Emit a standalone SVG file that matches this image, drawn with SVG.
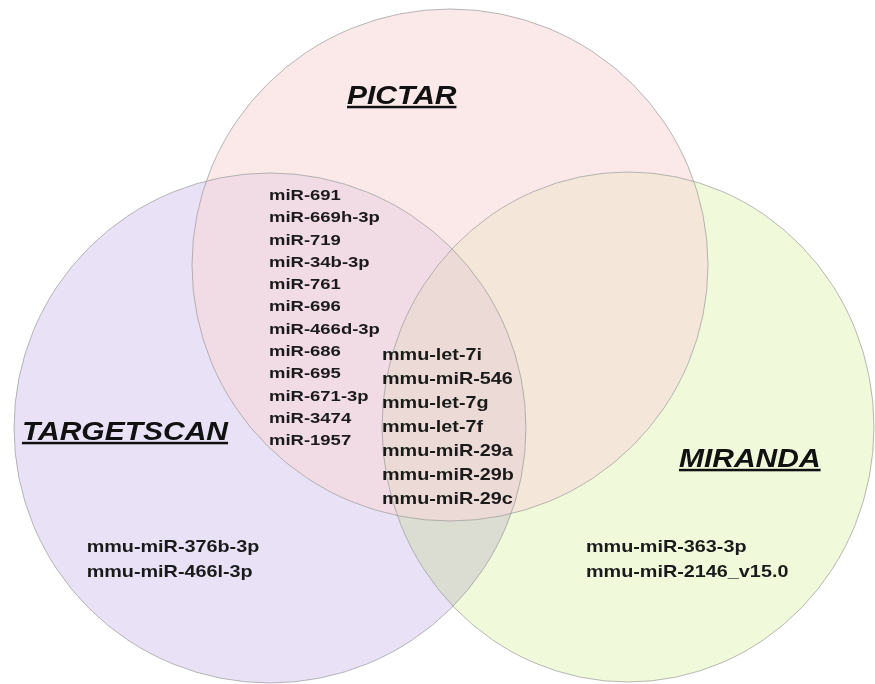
<svg xmlns="http://www.w3.org/2000/svg" width="875" height="684" viewBox="0 0 875 684">
  <style>
    .set-title { font-family: "Liberation Sans", Arial, sans-serif; font-size: 25px; font-weight: bold; font-style: italic; fill: #111; text-decoration: underline; }
    .mir { font-family: "Liberation Sans", Arial, sans-serif; font-weight: bold; fill: #1a1a1a; }
    .mir-s { font-size: 15.4px; }
    .mir-m { font-size: 16.5px; }
    .outline { fill: none; stroke: #9a9a9a; stroke-width: 1; stroke-opacity: 0.7; }
  </style>
  <rect width="875" height="684" fill="#ffffff"/>

  <!-- set areas -->
  <g id="set-fills">
    <ellipse id="fill-targetscan" cx="270" cy="428" rx="256" ry="255" fill="#e9e2f6"/>
    <ellipse id="fill-miranda" cx="628" cy="427" rx="246" ry="255" fill="#f0fadb" style="mix-blend-mode:multiply"/>
    <ellipse id="fill-pictar" cx="450" cy="265" rx="258" ry="256" fill="#f8d7d7" fill-opacity="0.55"/>
  </g>

  <!-- set outlines -->
  <g id="set-outlines">
    <ellipse class="outline" cx="270" cy="428" rx="256" ry="255"/>
    <ellipse class="outline" cx="628" cy="427" rx="246" ry="255"/>
    <ellipse class="outline" cx="450" cy="265" rx="258" ry="256"/>
  </g>

  <!-- set names -->
  <g id="title-pictar" transform="scale(1.2 1)">
    <text class="set-title" x="289.2" y="104">PICTAR</text>
  </g>
  <g id="title-targetscan" transform="scale(1.2 1)">
    <text class="set-title" x="18.3" y="440">TARGETSCAN</text>
  </g>
  <g id="title-miranda" transform="scale(1.2 1)">
    <text class="set-title" x="565.8" y="467">MIRANDA</text>
  </g>

  <!-- PICTAR and TARGETSCAN only -->
  <g id="pictar-targetscan" class="mir mir-s" transform="scale(1.2 1)">
    <text x="224.2" y="200">miR-691</text>
    <text x="224.2" y="222.3">miR-669h-3p</text>
    <text x="224.2" y="244.6">miR-719</text>
    <text x="224.2" y="266.9">miR-34b-3p</text>
    <text x="224.2" y="289.2">miR-761</text>
    <text x="224.2" y="311.5">miR-696</text>
    <text x="224.2" y="333.8">miR-466d-3p</text>
    <text x="224.2" y="356.1">miR-686</text>
    <text x="224.2" y="378.4">miR-695</text>
    <text x="224.2" y="400.7">miR-671-3p</text>
    <text x="224.2" y="423">miR-3474</text>
    <text x="224.2" y="445.3">miR-1957</text>
  </g>

  <!-- all three sets -->
  <g id="all-three" class="mir mir-m" transform="scale(1.2 1)">
    <text x="318.3" y="360">mmu-let-7i</text>
    <text x="318.3" y="384">mmu-miR-546</text>
    <text x="318.3" y="408">mmu-let-7g</text>
    <text x="318.3" y="432">mmu-let-7f</text>
    <text x="318.3" y="456">mmu-miR-29a</text>
    <text x="318.3" y="480">mmu-miR-29b</text>
    <text x="318.3" y="504">mmu-miR-29c</text>
  </g>

  <!-- TARGETSCAN only -->
  <g id="targetscan-only" class="mir mir-m" transform="scale(1.2 1)">
    <text x="72.2" y="552">mmu-miR-376b-3p</text>
    <text x="72.2" y="577">mmu-miR-466l-3p</text>
  </g>

  <!-- MIRANDA only -->
  <g id="miranda-only" class="mir mir-m" transform="scale(1.2 1)">
    <text x="488.3" y="552">mmu-miR-363-3p</text>
    <text x="488.3" y="577">mmu-miR-2146_v15.0</text>
  </g>
</svg>
